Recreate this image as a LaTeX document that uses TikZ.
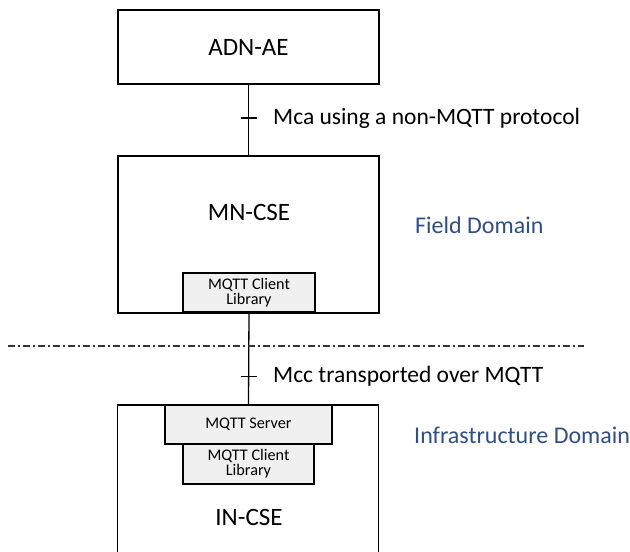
\documentclass[tikz,border=0pt]{standalone}
\usepackage{fontspec}
\setmainfont{Carlito}
\definecolor{domblue}{HTML}{2F4F85}
\definecolor{libgray}{HTML}{F0F0F0}
\begin{document}
\begin{tikzpicture}[x=1pt,y=-1pt,
  bigbox/.style={draw=black,line width=1.3pt,minimum width=261pt,inner sep=0pt,font=\fontsize{25}{27}\selectfont},
  libbox/.style={draw=black,line width=1.3pt,fill=libgray,inner sep=0pt,align=center,font=\fontsize{16.2}{17}\selectfont},
  conn/.style={line width=1.3pt},
  lbl/.style={anchor=west,inner sep=0pt,font=\fontsize{23.5}{25}\selectfont},
  dom/.style={anchor=west,inner sep=0pt,text=domblue,font=\fontsize{24}{26}\selectfont}]
\useasboundingbox (0,0) rectangle (630,552);
\clip (0,0) rectangle (630,552);
% ADN-AE
\node[bigbox,minimum height=74pt] (adn) at (248.5,47) {ADN-AE};
% MN-CSE
\node[bigbox,minimum height=157pt] (mn) at (248.5,234.5) {};
\node[font=\fontsize{25}{27}\selectfont] (mntext) at (249,212) {MN-CSE};
\node[libbox,minimum width=132pt,minimum height=39pt] (mnlib) at (249,292.5) {MQTT Client\\[-2pt]Library};
% IN-CSE
\node[bigbox,minimum height=180pt] (in) at (248,495) {};
\node[libbox,minimum width=167pt,minimum height=39pt] (srv) at (248.5,424.5) {MQTT Server};
\node[libbox,minimum width=131pt,minimum height=40pt] (inlib) at (248.5,464) {MQTT Client\\[-2pt]Library};
\node[font=\fontsize{25}{27}\selectfont] (intext) at (249,517) {IN-CSE};
% connectors
\draw[conn] (adn.south) -- (mn.north) coordinate[pos=0.47] (t1);
\draw[conn] ([xshift=-8pt]t1) -- ([xshift=8pt]t1);
\draw[conn] (mnlib.south) -- (srv.north) coordinate[pos=0.7] (t2);
\draw[conn] ([xshift=-8pt]t2) -- ([xshift=8pt]t2);
\node[lbl] (l1) at (273,118) {Mca using a non-MQTT protocol};
\node[lbl] (l2) at (273,376) {Mcc transported over MQTT};
% domain separator
\coordinate (s1) at (8,346);
\coordinate (s2) at (584,346);
\draw[line width=1.2pt,dash pattern=on 7pt off 3pt on 2pt off 3pt,draw=black!80] (s1) -- (s2);
\node[dom] (fd) at (415,225) {Field Domain};
\node[dom] (id) at (414,435) {Infrastructure Domain};
\end{tikzpicture}
\end{document}
